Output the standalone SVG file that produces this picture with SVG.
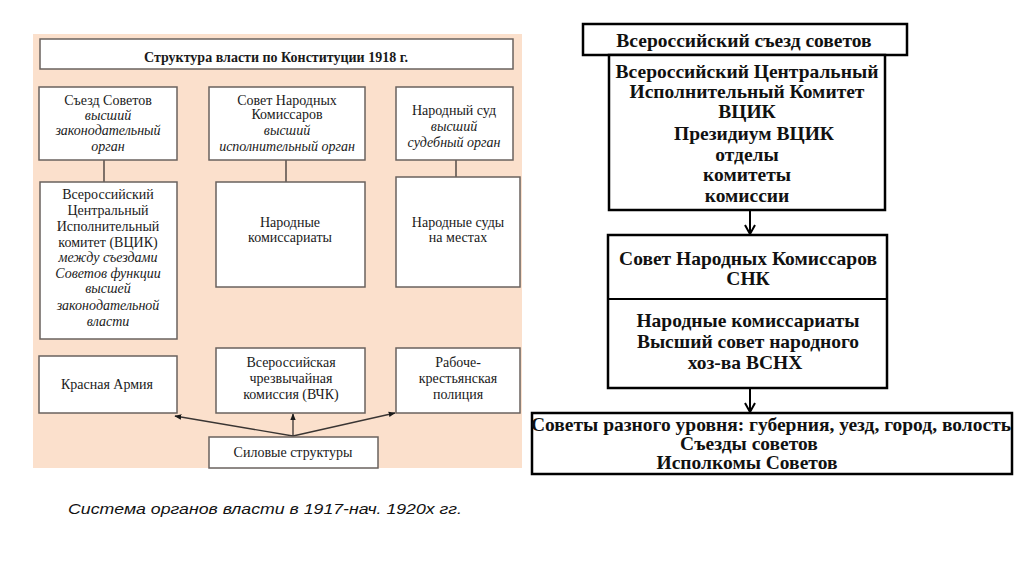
<svg xmlns="http://www.w3.org/2000/svg" width="1024" height="574" viewBox="0 0 1024 574">
<defs>
<style>
.bg{fill:#fbe0cc}
.lb{fill:#fff;stroke:#6a625e;stroke-width:1.5}
.rb{fill:#fff;stroke:#000;stroke-width:2.5}
.lt{font-family:'Liberation Serif','Times New Roman',serif;font-size:14px;fill:#1a1a1a;text-anchor:middle}
.it{font-style:italic}
.rt{font-family:'Liberation Serif','Times New Roman',serif;font-size:19.5px;font-weight:bold;fill:#111;text-anchor:middle}
.ln{stroke:#3a3533;stroke-width:1.3;fill:none}
.rl{stroke:#000;stroke-width:2;fill:none}
</style>
<marker id="fa" viewBox="0 0 10 10" refX="9" refY="5" markerWidth="7" markerHeight="7" orient="auto" markerUnits="userSpaceOnUse">
<path d="M0,1 L10,5 L0,9 z" fill="#1a1a1a"/>
</marker>
<marker id="oa" viewBox="0 0 12 12" refX="10" refY="6" markerWidth="12" markerHeight="12" orient="auto" markerUnits="userSpaceOnUse">
<path d="M1,1 L10,6 L1,11" fill="none" stroke="#000" stroke-width="2"/>
</marker>
</defs>
<rect width="1024" height="574" fill="#fff"/>
<rect class="bg" x="33" y="34" width="489" height="434"/>

<g id="connectors">
<line class="ln" x1="104" y1="160" x2="104" y2="182"/>
<line class="ln" x1="286" y1="160" x2="286" y2="182"/>
<line class="ln" x1="456" y1="160" x2="456" y2="177"/>
<line class="ln" x1="293" y1="436" x2="175" y2="416" marker-end="url(#fa)"/>
<line class="ln" x1="293" y1="436" x2="293" y2="414" marker-end="url(#fa)"/>
<line class="ln" x1="293" y1="436" x2="395" y2="413" marker-end="url(#fa)"/>
<line class="rl" x1="750" y1="210" x2="750" y2="234" marker-end="url(#oa)"/>
<line class="rl" x1="750" y1="388" x2="750" y2="412" marker-end="url(#oa)"/>
</g>

<g id="title">
<rect class="lb" x="40" y="39" width="473" height="30"/>
<text class="lt" x="276" y="62" font-weight="bold" font-size="13.5">Структура власти по Конституции 1918 г.</text>
</g>
<g id="sezd">
<rect class="lb" x="39" y="87" width="138" height="73"/>
<text class="lt" x="108" y="105">Съезд Советов</text>
<text class="lt it" x="108" y="120">высший</text>
<text class="lt it" x="108" y="135">законодательный</text>
<text class="lt it" x="108" y="151">орган</text>
</g>
<g id="snk-left">
<rect class="lb" x="209" y="87" width="156" height="73"/>
<text class="lt" x="287" y="105">Совет Народных</text>
<text class="lt" x="287" y="119">Комиссаров</text>
<text class="lt it" x="287" y="135">высший</text>
<text class="lt it" x="287" y="151">исполнительный орган</text>
</g>
<g id="sud">
<rect class="lb" x="396" y="87" width="117" height="73"/>
<text class="lt" x="454" y="115">Народный суд</text>
<text class="lt it" x="454" y="131">высший</text>
<text class="lt it" x="454" y="147">судебный орган</text>
</g>
<g id="vcik-left">
<rect class="lb" x="40" y="182" width="137" height="157"/>
<text class="lt" x="108" y="199">Всероссийский</text>
<text class="lt" x="108" y="215">Центральный</text>
<text class="lt" x="108" y="231">Исполнительный</text>
<text class="lt" x="108" y="247">комитет (ВЦИК)</text>
<text class="lt it" x="108" y="262">между съездами</text>
<text class="lt it" x="108" y="278">Советов функции</text>
<text class="lt it" x="108" y="293">высшей</text>
<text class="lt it" x="108" y="310">законодательной</text>
<text class="lt it" x="108" y="326">власти</text>
</g>
<g id="narkomaty">
<rect class="lb" x="216" y="182" width="149" height="105"/>
<text class="lt" x="290" y="227">Народные</text>
<text class="lt" x="290" y="242">комиссариаты</text>
</g>
<g id="sudy-mest">
<rect class="lb" x="396" y="177" width="124" height="110"/>
<text class="lt" x="458" y="227">Народные суды</text>
<text class="lt" x="458" y="242">на местах</text>
</g>
<g id="armiya">
<rect class="lb" x="39" y="356" width="138" height="57"/>
<text class="lt" x="107" y="389">Красная Армия</text>
</g>
<g id="vchk">
<rect class="lb" x="216" y="348" width="149" height="65"/>
<text class="lt" x="291" y="367">Всероссийская</text>
<text class="lt" x="291" y="383">чрезвычайная</text>
<text class="lt" x="291" y="399">комиссия (ВЧК)</text>
</g>
<g id="militsiya">
<rect class="lb" x="396" y="348" width="124" height="65"/>
<text class="lt" x="458" y="367">Рабоче-</text>
<text class="lt" x="458" y="383">крестьянская</text>
<text class="lt" x="458" y="399">полиция</text>
</g>
<g id="silovye">
<rect class="lb" x="209" y="437" width="169" height="31"/>
<text class="lt" x="293" y="457">Силовые структуры</text>
</g>

<g id="vss">
<rect class="rb" x="583" y="24" width="324" height="31"/>
<text class="rt" x="744" y="47">Всероссийский съезд советов</text>
</g>
<g id="vcik">
<rect class="rb" x="609" y="55" width="276" height="155"/>
<text class="rt" x="747" y="78">Всероссийский Центральный</text>
<text class="rt" x="747" y="98">Исполнительный Комитет</text>
<text class="rt" x="747" y="118">ВЦИК</text>
<text class="rt" x="754" y="140">Президиум ВЦИК</text>
<text class="rt" x="747" y="161">отделы</text>
<text class="rt" x="747" y="181">комитеты</text>
<text class="rt" x="747" y="202">комиссии</text>
</g>
<g id="snk">
<rect class="rb" x="608" y="235" width="279" height="153"/>
<line class="rl" x1="608" y1="299" x2="887" y2="299"/>
<text class="rt" x="748" y="265">Совет Народных Комиссаров</text>
<text class="rt" x="748" y="285">СНК</text>
<text class="rt" x="748" y="327">Народные комиссариаты</text>
<text class="rt" x="748" y="348">Высший совет народного</text>
<text class="rt" x="745" y="369">хоз-ва ВСНХ</text>
</g>
<g id="sovety">
<rect class="rb" x="532" y="413" width="480" height="61"/>
<text class="rt" x="771" y="431">Советы разного уровня: губерния, уезд, город, волость</text>
<text class="rt" x="749" y="450">Съезды советов</text>
<text class="rt" x="747" y="469">Исполкомы Советов</text>
</g>

<text x="68" y="514" font-family="'Liberation Sans',Arial,sans-serif" font-style="italic" font-size="15.5" fill="#111" textLength="394" lengthAdjust="spacingAndGlyphs">Система органов власти в 1917-нач. 1920х гг.</text>
</svg>
